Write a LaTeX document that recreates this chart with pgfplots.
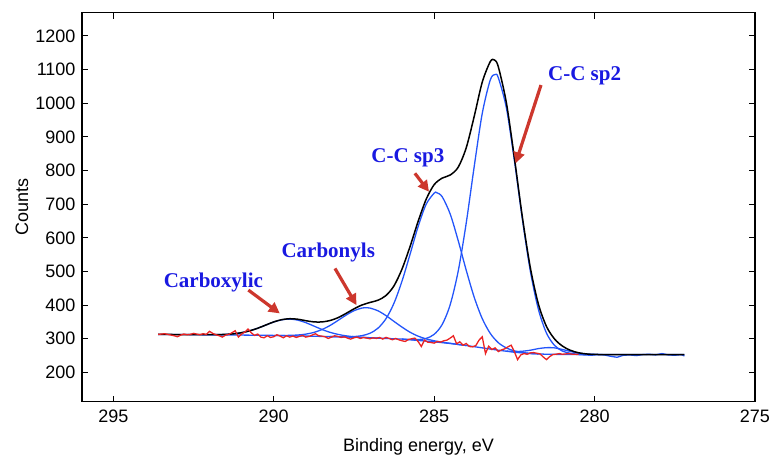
\documentclass[border=0pt]{standalone}
\usepackage{fontspec}
\setmainfont{Liberation Sans}
\newfontfamily\lserif{Liberation Serif}
\usepackage{pgfplots}
\pgfplotsset{compat=1.18}
\usetikzlibrary{arrows.meta}
\definecolor{compblue}{RGB}{35,85,250}
\definecolor{labblue}{RGB}{25,25,225}
\definecolor{noisered}{RGB}{235,35,35}
\definecolor{arrred}{RGB}{205,55,45}

\begin{document}
\begin{tikzpicture}
\begin{axis}[
    scale only axis,
    width=673bp, height=389bp,
    x dir=reverse,
    xmin=275, xmax=295.975,
    ymin=113, ymax=1269,
    xtick={275,280,...,295},
    ytick={200,300,...,1200},
    tick align=inside,
    major tick length=6bp,
    axis line style={line width=1.2bp},
    tick style={line width=1.1bp, black},
    tick label style={font=\fontsize{18bp}{20bp}\selectfont},
    /pgf/number format/assume math mode=true,
    /pgf/number format/1000 sep={},
    scaled ticks=false,
    yticklabel style={xshift=-3bp},
    xticklabel style={yshift=-5bp},
    xlabel={Binding energy, eV},
    ylabel={Counts},
    every axis x label/.style={at={(axis description cs:0.5,-0.127)}, anchor=base,
        font=\fontsize{18bp}{20bp}\selectfont},
    every axis y label/.style={at={(axis description cs:-0.0802,0.5)}, rotate=90, anchor=base,
        font=\fontsize{18bp}{20bp}\selectfont},
]

% Shirley-type background
\addplot[compblue, line width=1.3bp] coordinates {
(293.6,313) (292,312) (290,310) (289,308) (288,306) (287,303) (286,299)
(285.5,295) (285,291) (284.5,286) (284,280) (283.5,273) (283,266)
(282.5,260) (282,256) (281.5,254) (281,253.5) (280,253) (277.2,253)
};

% carboxylic
\addplot[compblue, line width=1.3bp, smooth] coordinates {
(292.25,312.2) (292,312.2) (291.75,312.4) (291.5,313.0) (291.25,314.8) (291,318.1)
(290.75,323.6) (290.5,331.3) (290.25,340.7) (290,349.9) (289.75,356.4) (289.5,358.5)
(289.25,355.4) (289,347.9) (288.75,337.9) (288.5,327.8) (288.25,319.3) (288,313.1)
(287.75,308.8) (287.5,306.0) (287.25,304.4) (287,303.2) (286.75,302)
};

% carbonyls
\addplot[compblue, line width=1.3bp, smooth] coordinates {
(290,310) (289.75,309.9) (289.5,310.1) (289.25,311.2) (289,313.8) (288.75,318.8)
(288.5,327.2) (288.25,339.2) (288,354.2) (287.75,369.9) (287.5,383.3) (287.25,391.3)
(287.1,392.4) (287,391.3) (286.75,383.1) (286.5,368.8) (286.25,351.5) (286,334.6)
(285.75,319.4) (285.5,307.8) (285.25,299.7) (285,294.1) (284.75,289.9) (284.5,286.5)
(284.25,283.2) (284,280)
};

% C-C sp3
\addplot[compblue, line width=1.3bp, smooth] coordinates {
(288.25,306.5) (288,306.2) (287.75,306.0) (287.5,306.5) (287.25,309.3) (287,316.4)
(286.75,331.5) (286.5,359.8) (286.25,406.0) (286,471.7) (285.75,551.2) (285.5,633.1)
(285.25,699.5) (285,732.7) (284.92,734.2) (284.75,722.2) (284.5,670.9) (284.25,591.7)
(284,503.7) (283.75,423.1) (283.5,359.8) (283.25,315.9) (283,288.4) (282.75,272.8)
(282.5,263.9) (282.25,259.4) (282,256.4) (281.75,255)
};

% C-C sp2
\addplot[compblue, line width=1.3bp, smooth] coordinates {
(286,299.2) (285.75,297.7) (285.5,297.6) (285.25,301.0) (285,313.1) (284.75,342.3)
(284.5,401.2) (284.25,501.0) (284,643.9) (283.75,812.6) (283.5,970.0) (283.25,1069.3)
(283.1,1085.4) (283,1075.9) (282.75,986.7) (282.5,830.7) (282.25,655.2) (282,499.9)
(281.75,387.2) (281.5,317.2) (281.25,280.5) (281,263.5) (280.75,256.7) (280.5,254.2)
(280.25,253.3) (280,253)
};

% small component near 281.4 eV
\addplot[compblue, line width=1.3bp, smooth] coordinates {
(282.75,263.6) (282.5,262) (282.25,263) (282,266) (281.75,270.8) (281.5,273.6)
(281.25,273) (281,268.2) (280.75,262.3) (280.5,257.5) (280.25,254.7) (280,253.5) (279.75,253.1)
};

% raw data tail
\addplot[compblue, line width=1.3bp] coordinates {
(280.5,253) (280.3,252) (280.1,251) (279.9,253) (279.7,252) (279.5,248) (279.3,245)
(279.1,251) (278.9,252) (278.7,250) (278.5,253) (278.3,254) (278.1,252) (277.9,256)
(277.7,252) (277.5,251) (277.3,253) (277.2,249)
};

% envelope
\addplot[black, line width=1.5bp, smooth] coordinates {
(293.6,313) (293,312.6) (292.5,312.3) (292,312.2) (291.75,312.4) (291.5,313.0)
(291.25,314.8) (291,318.1) (290.75,323.6) (290.5,331.3) (290.25,340.7) (290,350.1)
(289.75,356.8) (289.5,359.6) (289.25,358.1) (289,353.7) (288.75,350.2) (288.5,350.0)
(288.25,354.1) (288,362.5) (287.75,375.1) (287.5,388.8) (287.25,400.4) (287,407.9)
(286.75,414.6) (286.5,428.6) (286.25,457.5) (286,507.5) (285.75,574.3) (285.5,648.5)
(285.25,714.2) (285,757.9) (284.75,777.4) (284.5,786.6) (284.25,809.9) (284,867.6)
(283.75,961.2) (283.5,1062.8) (283.25,1123.7) (283.12,1128.5) (283,1108.3) (282.75,1002.1)
(282.5,838.6) (282.25,661.6) (282,510.3) (281.75,403.0) (281.5,336.8) (281.25,299.7)
(281,278.2) (280.75,265.6) (280.5,258.4) (280.25,254.9) (280,253.5) (279.5,253) (277.2,253)
};

% residual
\addplot[noisered, line width=1.3bp] coordinates {
(293.6,313) (293.5,314) (293.4,315) (293.3,313) (293.2,311) (293.1,309) (293.0,306)
(292.9,311) (292.8,314) (292.7,312) (292.6,313) (292.5,316) (292.4,314) (292.3,312)
(292.2,315) (292.1,313) (292.0,322) (291.9,316) (291.8,312) (291.7,309) (291.6,305)
(291.5,311) (291.4,313) (291.3,318) (291.2,324) (291.1,305) (291.0,314) (290.9,320)
(290.8,329) (290.7,318) (290.6,310) (290.5,314) (290.4,305) (290.3,303) (290.2,309)
(290.1,304) (290.0,306) (289.9,312) (289.8,308) (289.7,303) (289.6,309) (289.5,305)
(289.4,308) (289.3,304) (289.2,307) (289.1,310) (289.0,305) (288.9,307) (288.8,311)
(288.7,315) (288.6,309) (288.5,308) (288.4,306) (288.3,301) (288.2,305) (288.1,309)
(288.0,307) (287.9,304) (287.8,306) (287.7,302) (287.6,299) (287.5,303) (287.4,305)
(287.3,301) (287.2,304) (287.1,302) (287.0,300) (286.9,303) (286.8,301) (286.7,304)
(286.6,299) (286.5,304) (286.4,301) (286.3,297) (286.2,301) (286.1,297) (286.0,294)
(285.9,292) (285.8,298) (285.7,300) (285.6,302) (285.5,292) (285.4,277) (285.3,296)
(285.2,290) (285.1,289) (285.0,287) (284.9,292) (284.8,290) (284.7,294) (284.6,296)
(284.5,302) (284.4,309) (284.3,285) (284.2,291) (284.1,281) (284.0,286) (283.9,277)
(283.8,276) (283.7,280) (283.6,296) (283.5,306) (283.4,256) (283.3,278) (283.2,268)
(283.1,273) (283.0,262) (282.9,267) (282.8,270) (282.7,276) (282.6,281) (282.5,262)
(282.4,238) (282.3,252) (282.2,256) (282.1,254) (282.0,258) (281.9,259) (281.8,257)
(281.7,255) (281.6,246) (281.5,238) (281.4,247) (281.3,253) (281.2,254) (281.1,256)
(281.0,254) (280.9,255) (280.8,256) (280.7,254) (280.6,254) (280.5,253)
};

% annotations
\node[font={\lserif\bfseries\fontsize{21bp}{23bp}\selectfont}, text=labblue, anchor=base]
    at (axis cs:291.88,453) {Carboxylic};
\node[font={\lserif\bfseries\fontsize{21bp}{23bp}\selectfont}, text=labblue, anchor=base]
    at (axis cs:288.30,542) {Carbonyls};
\node[font={\lserif\bfseries\fontsize{21bp}{23bp}\selectfont}, text=labblue, anchor=base]
    at (axis cs:285.82,823) {C-C sp3};
\node[font={\lserif\bfseries\fontsize{21bp}{23bp}\selectfont}, text=labblue, anchor=base]
    at (axis cs:280.31,1067) {C-C sp2};

\draw[arrred, line width=3.2bp, -{Triangle[length=11bp,width=11bp]}]
    (axis cs:290.79,444.7) -- (axis cs:289.81,375.4);
\draw[arrred, line width=3.2bp, -{Triangle[length=11bp,width=11bp]}]
    (axis cs:288.09,509) -- (axis cs:287.42,400);
\draw[arrred, line width=3.2bp, -{Triangle[length=11bp,width=11bp]}]
    (axis cs:285.60,791.7) -- (axis cs:285.16,737);
\draw[arrred, line width=3.2bp, -{Triangle[length=11bp,width=11bp]}]
    (axis cs:281.67,1054) -- (axis cs:282.46,821.5);

\end{axis}
\pgfresetboundingbox
\path[use as bounding box] (-82bp,-53.3bp) rectangle (691bp,401.7bp);
\end{tikzpicture}
\end{document}
